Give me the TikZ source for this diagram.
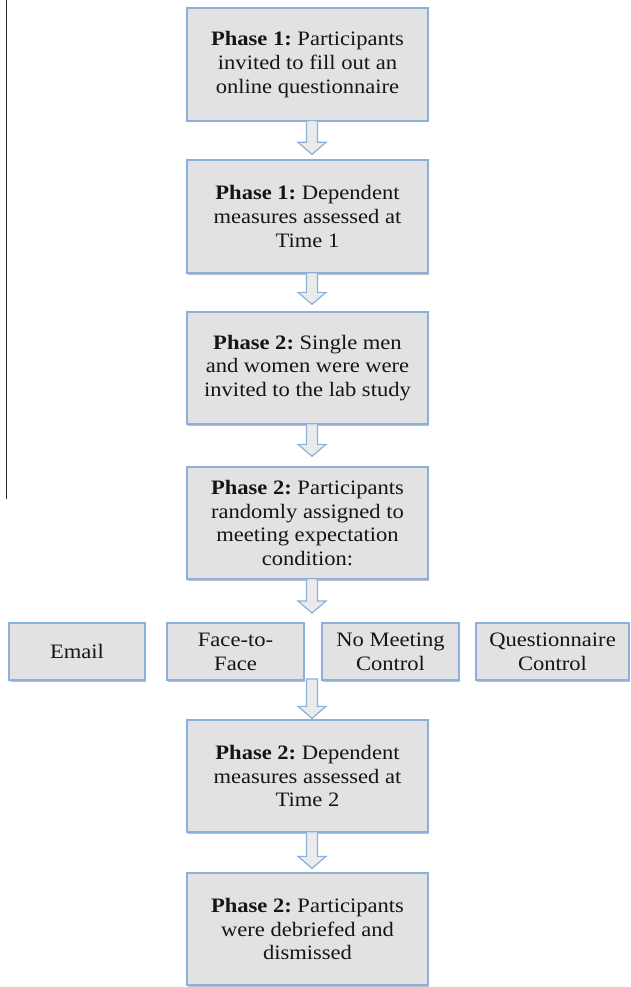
\documentclass[tikz,border=0pt]{standalone}
\usepackage{fontspec}
\setmainfont{Liberation Serif}[FakeStretch=1.1]
\usetikzlibrary{shadows,calc}
\definecolor{boxfill}{HTML}{E2E2E2}
\definecolor{boxline}{HTML}{8BB0DA}
\definecolor{txt}{HTML}{151515}
\frenchspacing
\newcommand{\blockarr}[4]{% from node, to node, tip gap, x shift
  \path let \p1=(#1.south), \p2=(#2.north) in
    [blockarrow] (\x1+#4-5.5pt,\y1+1pt) -- (\x1+#4-5.5pt,\y2+#3+12pt)
    -- (\x1+#4-14pt,\y2+#3+12pt) -- (\x1+#4,\y2+#3) -- (\x1+#4+14pt,\y2+#3+12pt)
    -- (\x1+#4+5.5pt,\y2+#3+12pt) -- (\x1+#4+5.5pt,\y1+1pt) -- cycle;}
\begin{document}
\begin{tikzpicture}[x=1pt,y=-1pt,
  flowbox/.style={draw=boxline, fill=boxfill, line width=1.3pt, align=center,
    text=txt, font=\fontsize{20.5}{23.8}\selectfont, inner sep=0pt,
    drop shadow={shadow xshift=1pt, shadow yshift=-1.5pt, opacity=0.25, fill=black}},
  bigbox/.style={flowbox, minimum width=241pt, minimum height=113pt},
  smallbox/.style={flowbox, minimum height=57pt},
  blockarrow/.style={draw=boxline, fill=boxfill!70!white, line width=1.2pt, line join=miter}]
\useasboundingbox (0,0) rectangle (630,987);
\fill[white] (0,0) rectangle (630,987);
\draw[black!85, line width=1pt] (6,0) -- (6,499);

\node[bigbox] (b1) at (307.5,64.5) {\textbf{Phase 1:} Participants\\invited to fill out an\\online questionnaire};
\node[bigbox] (b2) at (307.5,216.5) {\textbf{Phase 1:} Dependent\\measures assessed at\\Time 1};
\node[bigbox, minimum height=112pt] (b3) at (307.5,368) {\textbf{Phase 2:} Single men\\and women were were\\invited to the lab study};
\node[bigbox, minimum height=112pt] (b4) at (307.5,523) {\textbf{Phase 2:} Participants\\randomly assigned to\\meeting expectation\\condition:};

\node[smallbox, minimum width=136pt] (email) at (77,651.5) {Email};
\node[smallbox, minimum width=137pt] (f2f) at (235.5,651.5) {Face-to-\\Face};
\node[smallbox, minimum width=137pt] (nomeet) at (390.5,651.5) {No Meeting\\Control};
\node[smallbox, minimum width=153pt] (quest) at (552.5,651.5) {Questionnaire\\Control};
\coordinate (rowtop) at (307.5,623);
\coordinate (rowbot) at (307.5,680);

\node[bigbox, minimum height=112pt] (b5) at (307.5,776) {\textbf{Phase 2:} Dependent\\measures assessed at\\Time 2};
\node[bigbox, minimum height=112pt] (b6) at (307.5,929) {\textbf{Phase 2:} Participants\\were debriefed and\\dismissed};

\blockarr{b1}{b2}{5pt}{4.5pt}
\blockarr{b2}{b3}{7pt}{4.5pt}
\blockarr{b3}{b4}{10pt}{4.5pt}
\blockarr{b4}{rowtop}{10pt}{4.5pt}
\blockarr{rowbot}{b5}{1pt}{4.5pt}
\blockarr{b5}{b6}{4pt}{4.5pt}
\end{tikzpicture}
\end{document}
